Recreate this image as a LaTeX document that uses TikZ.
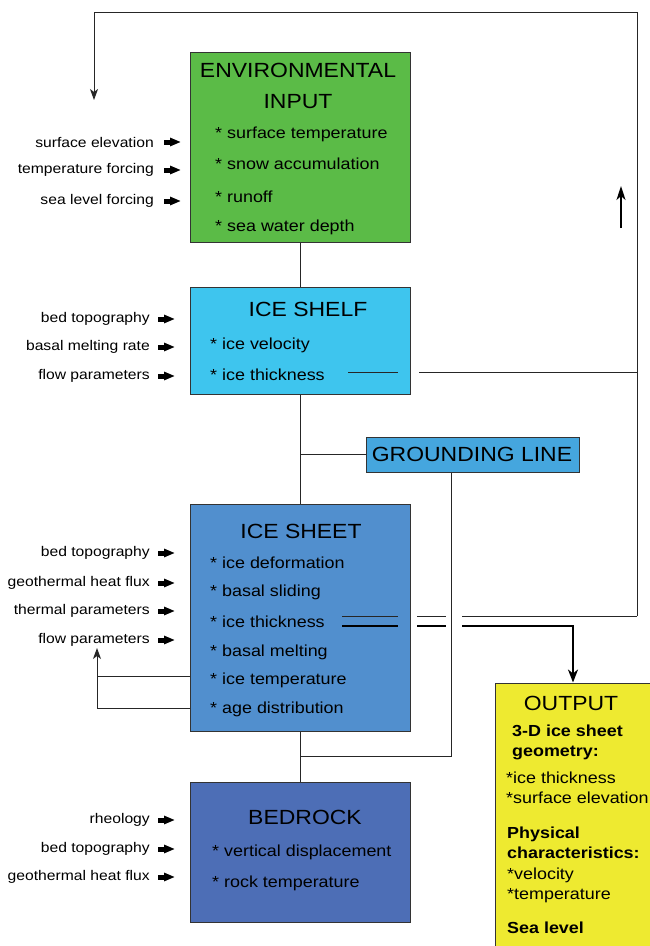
\documentclass[tikz,border=0pt]{standalone}
\usepackage{fontspec}
\setmainfont[FakeStretch=1.12]{Liberation Sans}
\usepackage{tikz}
\usetikzlibrary{arrows.meta}

\definecolor{envgreen}{RGB}{91,187,71}
\definecolor{shelfblue}{RGB}{62,197,238}
\definecolor{glblue}{RGB}{69,166,222}
\definecolor{sheetblue}{RGB}{81,143,206}
\definecolor{rockblue}{RGB}{77,110,182}
\definecolor{outyellow}{RGB}{238,234,48}

\newcommand{\labfont}{\fontsize{14}{16}\selectfont}
\newcommand{\itmfont}{\fontsize{16}{20}\selectfont}
\newcommand{\ttlfont}{\fontsize{20.5}{31}\selectfont}

\begin{document}
\begin{tikzpicture}[x=1pt,y=-1pt,
    box/.style={draw=black!80,line width=1pt,inner sep=0pt},
    lab/.style={anchor=east,inner sep=0pt,font=\labfont},
    itm/.style={anchor=west,inner sep=0pt,align=left,font=\itmfont},
    ttl/.style={inner sep=0pt,align=center,font=\ttlfont},
    wire/.style={draw=black!85,line width=0.9pt},
    fat/.style={draw=black,line width=2.6pt},
    inarrow/.style={line width=5pt,-{Triangle[length=11pt,width=8pt]}},
    tip/.style={-{Stealth[length=11pt,width=8pt,inset=3pt]}}]
  \useasboundingbox (0,0) rectangle (650,946);
  \clip (0,0) rectangle (650,946);

  % boxes
  \node[box,fill=envgreen,minimum width=220pt,minimum height=190pt] (env) at (300,147) {};
  \node[box,fill=shelfblue,minimum width=220pt,minimum height=107pt] (shelf) at (300,340.5) {};
  \node[box,fill=sheetblue,minimum width=220pt,minimum height=227pt] (sheet) at (300,617.5) {};
  \node[box,fill=rockblue,minimum width=220pt,minimum height=140pt] (bed) at (300,852) {};
  \node[box,fill=glblue,minimum width=213pt,minimum height=35pt] (gl) at (472.5,454.5) {};
  \node[box,fill=outyellow,minimum width=165pt,minimum height=277pt] (out) at (577.5,821.5) {};

  % titles
  \node[ttl] (envttl) at (298,86) {ENVIRONMENTAL\\INPUT};
  \node[ttl] (shelfttl) at (308,309) {ICE SHELF};
  \node[ttl] (sheetttl) at (301,531) {ICE SHEET};
  \node[ttl] (bedttl) at (305,817) {BEDROCK};
  \node[ttl] (glttl) at (472,454) {GROUNDING LINE};
  \node[ttl] (outttl) at (571,703) {OUTPUT};

  % model variables
  \foreach \y/\t [count=\i] in {134/surface temperature,164/snow accumulation,197/runoff,227/sea water depth}
    \node[itm] (envitm\i) at (215,\y) {* \t};
  \foreach \y/\t [count=\i] in {345/ice velocity,375/ice thickness}
    \node[itm] (shelfitm\i) at (210,\y) {* \t};
  \foreach \y/\t [count=\i] in {563/ice deformation,592/basal sliding,622/ice thickness,652/basal melting,680/ice temperature,709/age distribution}
    \node[itm] (sheetitm\i) at (210,\y) {* \t};
  \foreach \y/\t [count=\i] in {852/vertical displacement,883/rock temperature}
    \node[itm] (beditm\i) at (212,\y) {* \t};

  % output
  \node[itm,font=\itmfont\bfseries] (out1) at (512,742) {3-D ice sheet\\geometry:};
  \node[itm] (out2) at (506,788) {*ice thickness\\*surface elevation};
  \node[itm,font=\itmfont\bfseries] (out3) at (507,843) {Physical\\characteristics:};
  \node[itm] (out4) at (507,885) {*velocity\\*temperature};
  \node[itm,font=\itmfont\bfseries] (out5) at (507,928) {Sea level};

  % forcing inputs
  \foreach \y/\t [count=\i] in {142/surface elevation,170/temperature forcing,201/sea level forcing}{
    \node[lab] (envlab\i) at (154,\y) {\t};
    \draw[inarrow] ([xshift=10pt]envlab\i.east) -- ++(17,0);
  }
  \foreach \y/\t [count=\i] in {319/bed topography,347/basal melting rate,376/flow parameters}{
    \node[lab] (shelflab\i) at (150,\y) {\t};
    \draw[inarrow] ([xshift=8pt]shelflab\i.east) -- ++(17,0);
  }
  \foreach \y/\t [count=\i] in {553/bed topography,583/geothermal heat flux,611/thermal parameters,640/flow parameters}{
    \node[lab] (sheetlab\i) at (150,\y) {\t};
    \draw[inarrow] ([xshift=8pt]sheetlab\i.east) -- ++(17,0);
  }
  \foreach \y/\t [count=\i] in {820/rheology,849/bed topography,877/geothermal heat flux}{
    \node[lab] (bedlab\i) at (150,\y) {\t};
    \draw[inarrow] ([xshift=8pt]bedlab\i.east) -- ++(17,0);
  }

  % links between components
  \draw[wire] (env.south) -- (shelf.north);
  \draw[wire] (shelf.south) -- (sheet.north);
  \draw[wire] (shelf.south |- gl.west) -- (gl.west);
  \draw[wire] (sheet.south) -- (bed.north);
  \draw[wire] ([xshift=-21.5pt]gl.south) |- (sheet.south |- 0,756);

  % ice thickness feedback
  \coordinate (fbtop) at (94,100);
  \coordinate (fbright) at (637,616);
  \draw[wire] (348,372) -- (398,372);
  \draw[wire] (419,372) -- (fbright |- 0,372);
  \draw[wire] (342,616) -- (398,616);
  \draw[wire] (417,616) -- (446,616);
  \draw[wire] (462,616) -- (fbright);
  \draw[wire,tip] (fbright) |- (fbtop |- 0,12) -- (fbtop);
  \draw[line width=2pt,-{Stealth[length=14pt,width=9pt,inset=4pt]}] (621,228) -- (621,186);
  \draw[fat] (342,626) -- (398,626);
  \draw[fat] (417,626) -- (446,626);
  \draw[fat,line cap=butt,-{Stealth[length=13pt,width=10pt,inset=4pt]}] (462,626) -| (out.north -| 573,0);

  % basal feedback
  \draw[wire] (sheet.west |- 0,676) -- (97,676);
  \draw[wire,tip] (sheet.west |- 0,708) -| (97,648);
\end{tikzpicture}
\end{document}
